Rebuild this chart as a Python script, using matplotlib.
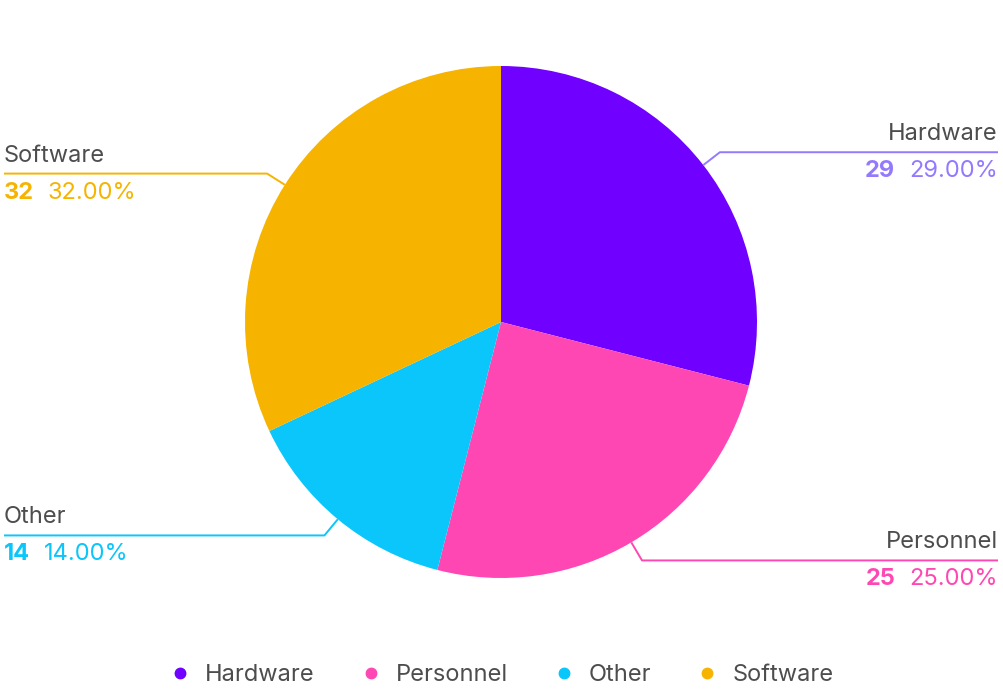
import numpy as np
import matplotlib.pyplot as plt
from matplotlib.lines import Line2D

plt.rcParams['font.family'] = ['Inter', 'DejaVu Sans']

# datos
categories = ["Hardware", "Personnel", "Other", "Software"]
values = [29, 25, 14, 32]
colors = ["#7000ff", "#ff47b3", "#0bc6fa", "#f6b400"]
# color claro para lineas y valores (solo el morado cambia)
label_colors = ["#9479ff", "#ff47b3", "#0bc6fa", "#f6b400"]

W, H = 1004, 690
fig = plt.figure(figsize=(W / 100, H / 100), dpi=100)
ax = fig.add_axes([0, 0, 1, 1])

cx, cy, r = 501, H - 322, 256
wedges, _ = ax.pie(values, colors=colors, startangle=90, counterclock=False,
                   radius=r, center=(cx, cy), frame=True)
ax.set_xlim(0, W)
ax.set_ylim(0, H)
ax.set_aspect('equal')
ax.axis('off')

total = sum(values)
start = 90
for cat, val, col in zip(categories, values, label_colors):
    ang = start - val / total * 360 / 2
    start -= val / total * 360
    a = np.deg2rad(ang)
    x0, y0 = cx + r * np.cos(a), cy + r * np.sin(a)
    x1, y1 = cx + 277 * np.cos(a), cy + 277 * np.sin(a)
    right = np.cos(a) > 0
    xe = 998 if right else 4
    ax.plot([x0, x1, xe], [y0, y1, y1], color=col, lw=1.4, solid_capstyle='butt')
    ha = 'right' if right else 'left'
    ax.text(xe, y1 + 18, cat, ha=ha, va='center', fontsize=17, color='#4d4d4d')
    pct = f"{val / total * 100:.2f}%"
    if right:
        t = ax.text(xe, y1 - 19, pct, ha='right', va='center', fontsize=17, color=col)
        ax.annotate(str(val), xy=(0, 0.5), xycoords=t, xytext=(-10, 0),
                    textcoords='offset points', ha='right', va='center',
                    fontsize=17, fontweight='bold', color=col)
    else:
        t = ax.text(xe, y1 - 19, str(val), ha='left', va='center', fontsize=17,
                    fontweight='bold', color=col)
        ax.annotate(pct, xy=(1, 0.5), xycoords=t, xytext=(10, 0),
                    textcoords='offset points', ha='left', va='center',
                    fontsize=17, color=col)

# leyenda
handles = [Line2D([], [], marker='o', ls='', color=c, markersize=7.5) for c in colors]
leg = fig.legend(handles, categories, loc='center', bbox_to_anchor=(0.5, 1 - 675 / H),
                 ncol=4, frameon=False, fontsize=17, handletextpad=0.66,
                 columnspacing=1.97, handlelength=0.8, borderpad=0)
for txt in leg.get_texts():
    txt.set_color('#4d4d4d')

fig.savefig("out.png", dpi=100)
